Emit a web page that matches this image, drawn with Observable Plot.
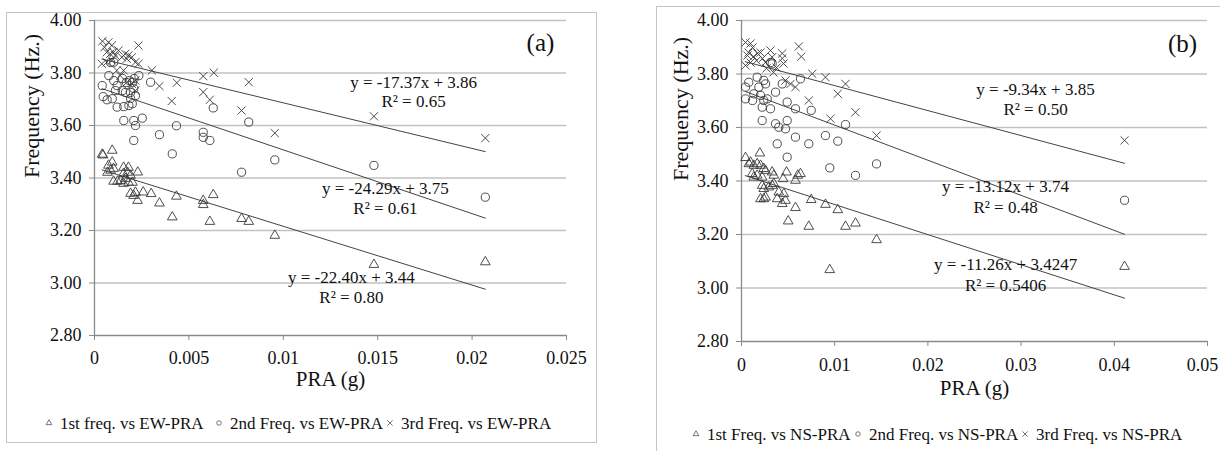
<!DOCTYPE html>
<html><head><meta charset="utf-8">
<script src="https://cdn.jsdelivr.net/npm/d3@7"></script>
<script src="https://cdn.jsdelivr.net/npm/@observablehq/plot@0.6"></script>
<style>
body{margin:0;background:#fff;width:1220px;height:451px;overflow:hidden;position:relative;font-family:"Liberation Serif","Times New Roman",serif;}
.frame{position:absolute;border:1.5px solid #c4c4c4;box-sizing:border-box;}
.leg{position:absolute;font-size:17px;color:#111;white-space:nowrap;line-height:1;}
.leg svg{position:absolute;left:-9px;top:5px;overflow:visible}
svg{overflow:visible}
#a svg text, #b svg text{font-family:"Liberation Serif","Times New Roman",serif !important;}
</style></head><body>
<div class="frame" style="left:6px;top:12px;width:591px;height:431px"></div>
<div class="frame" style="left:656px;top:6px;width:620px;height:470px"></div>
<div id="a" style="position:absolute;left:0;top:0"></div>
<div id="b" style="position:absolute;left:650px;top:0"></div>
<div id="legends"></div>
<script>
// ---------- DATA ----------
const yTicks = [2.8, 3.0, 3.2, 3.4, 3.6, 3.8, 4.0];
const xTicksA = [0, 0.005, 0.01, 0.015, 0.02, 0.025];
const xTickLabelsA = ["0", "0.005", "0.01", "0.015", "0.02", "0.025"];
const xTicksB = [0, 0.01, 0.02, 0.03, 0.04, 0.05];
const xTickLabelsB = ["0", "0.01", "0.02", "0.03", "0.04", "0.05"];

// Panel (a): frequency vs EW-PRA  [PRA (g), frequency (Hz)]
const ewFreq1 = [
  [0.00041,3.490],[0.00045,3.487],[0.00094,3.505],[0.00094,3.460],[0.00074,3.448],[0.00085,3.429],
  [0.00101,3.436],[0.00069,3.421],[0.00101,3.387],[0.00122,3.387],[0.00138,3.390],[0.00154,3.440],
  [0.00180,3.440],[0.00175,3.421],[0.00154,3.417],[0.00191,3.410],[0.00164,3.398],[0.00154,3.379],
  [0.00180,3.383],[0.00201,3.383],[0.00229,3.422],[0.00191,3.341],[0.00207,3.333],[0.00217,3.345],
  [0.00228,3.314],[0.00258,3.346],[0.00300,3.340],[0.00344,3.304],[0.00412,3.251],[0.00434,3.330],
  [0.00576,3.314],[0.00576,3.298],[0.00629,3.336],[0.00611,3.234],[0.00779,3.245],[0.00817,3.234],
  [0.00955,3.181],[0.0148,3.070],[0.0207,3.080]
];
const ewFreq2 = [
  [0.00041,3.752],[0.00046,3.710],[0.00067,3.698],[0.00076,3.790],[0.00094,3.702],[0.00102,3.771],
  [0.00120,3.752],[0.00111,3.733],[0.00102,3.841],[0.00085,3.840],[0.00148,3.779],[0.00169,3.764],
  [0.00185,3.771],[0.00201,3.764],[0.00210,3.779],[0.00147,3.733],[0.00164,3.726],[0.00191,3.726],
  [0.00208,3.741],[0.00120,3.670],[0.00155,3.672],[0.00182,3.676],[0.00200,3.683],[0.00191,3.703],
  [0.00155,3.619],[0.00208,3.619],[0.00217,3.600],[0.00253,3.628],[0.00208,3.543],[0.00235,3.790],
  [0.00217,3.714],[0.00297,3.765],[0.00344,3.565],[0.00412,3.492],[0.00434,3.599],[0.00576,3.574],
  [0.00576,3.555],[0.00611,3.543],[0.00629,3.667],[0.00779,3.422],[0.00817,3.613],[0.00955,3.469],
  [0.0148,3.448],[0.0207,3.327]
];
const ewFreq3 = [
  [0.00042,3.921],[0.00074,3.917],[0.00092,3.905],[0.00053,3.898],[0.00065,3.879],[0.00083,3.873],
  [0.00101,3.879],[0.00110,3.867],[0.00039,3.835],[0.00065,3.841],[0.00092,3.848],[0.00127,3.886],
  [0.00145,3.860],[0.00163,3.873],[0.00171,3.854],[0.00180,3.867],[0.00198,3.860],[0.00216,3.841],
  [0.00233,3.835],[0.00233,3.905],[0.00118,3.810],[0.00136,3.790],[0.00154,3.810],[0.00171,3.765],
  [0.00198,3.759],[0.00216,3.771],[0.00216,3.733],[0.00304,3.810],[0.00344,3.750],[0.00436,3.763],
  [0.00409,3.693],[0.00576,3.788],[0.00632,3.801],[0.00576,3.727],[0.00611,3.698],[0.00779,3.657],
  [0.00817,3.765],[0.00955,3.571],[0.0148,3.635],[0.0207,3.552]
];

// Panel (b): frequency vs NS-PRA
const nsFreq1 = [
  [0.00043,3.487],[0.00197,3.504],[0.00079,3.464],[0.00097,3.470],[0.00132,3.458],[0.00168,3.464],
  [0.00204,3.458],[0.00239,3.446],[0.00258,3.439],[0.00329,3.433],[0.00347,3.421],[0.00115,3.427],
  [0.00132,3.414],[0.00168,3.421],[0.00222,3.414],[0.00222,3.383],[0.00239,3.371],[0.00293,3.377],
  [0.00329,3.383],[0.00347,3.390],[0.00204,3.333],[0.00239,3.333],[0.00258,3.339],[0.00383,3.333],
  [0.00437,3.315],[0.00472,3.327],[0.00454,3.352],[0.00400,3.358],[0.00483,3.433],[0.00447,3.408],
  [0.00579,3.402],[0.00604,3.421],[0.00633,3.427],[0.00579,3.300],[0.00501,3.250],[0.00748,3.330],
  [0.00901,3.312],[0.00722,3.230],[0.01033,3.292],[0.01116,3.230],[0.01223,3.242],[0.01449,3.180],
  [0.00947,3.068],[0.0411,3.080]
];
const nsFreq2 = [
  [0.00043,3.751],[0.00043,3.707],[0.00078,3.769],[0.00118,3.701],[0.00132,3.726],[0.00168,3.788],
  [0.00186,3.751],[0.00204,3.720],[0.00222,3.676],[0.00239,3.701],[0.00222,3.626],[0.00239,3.776],
  [0.00258,3.763],[0.00276,3.707],[0.00311,3.670],[0.00329,3.838],[0.00311,3.843],[0.00365,3.732],
  [0.00365,3.614],[0.00400,3.601],[0.00490,3.626],[0.00472,3.595],[0.00383,3.539],[0.00437,3.763],
  [0.00490,3.695],[0.00579,3.670],[0.00579,3.564],[0.00633,3.782],[0.00722,3.539],[0.00748,3.664],
  [0.00901,3.570],[0.00947,3.449],[0.01033,3.549],[0.01116,3.611],[0.01223,3.421],[0.01449,3.464],
  [0.00490,3.489],[0.0411,3.328]
];
const nsFreq3 = [
  [0.00043,3.918],[0.00097,3.914],[0.00118,3.899],[0.00075,3.880],[0.00064,3.869],[0.00129,3.865],
  [0.00172,3.877],[0.00204,3.880],[0.00043,3.832],[0.00097,3.843],[0.00161,3.850],[0.00225,3.858],
  [0.00258,3.843],[0.00311,3.888],[0.00329,3.863],[0.00437,3.877],[0.00437,3.858],[0.00451,3.839],
  [0.00268,3.821],[0.00343,3.806],[0.00376,3.824],[0.00472,3.776],[0.00526,3.763],[0.00579,3.751],
  [0.00615,3.903],[0.00641,3.865],[0.00722,3.701],[0.00759,3.801],[0.00901,3.788],[0.00955,3.633],
  [0.01033,3.726],[0.01116,3.763],[0.01223,3.657],[0.01449,3.570],[0.0411,3.552]
];

// Trend lines (from the printed equations) and their x-extent
const trendSlopesA = [-22.40, -24.29, -17.37];
const trendInterceptsA = [3.44, 3.75, 3.86];
const trendRangeA = [0.0004, 0.0207];
const trendSlopesB = [-11.26, -13.12, -9.34];
const trendInterceptsB = [3.4247, 3.74, 3.85];
const trendRangeB = [0.0004, 0.0411];

const eqTextA = ["y = -22.40x + 3.44", "y = -24.29x + 3.75", "y = -17.37x + 3.86"];
const r2TextA = ["R² = 0.80", "R² = 0.61", "R² = 0.65"];
const eqTextB = ["y = -11.26x + 3.4247", "y = -13.12x + 3.74", "y = -9.34x + 3.85"];
const r2TextB = ["R² = 0.5406", "R² = 0.48", "R² = 0.50"];
const legendA = ["1st freq. vs EW-PRA", "2nd Freq. vs EW-PRA", "3rd Freq. vs EW-PRA"];
const legendB = ["1st Freq. vs NS-PRA", "2nd Freq. vs NS-PRA", "3rd Freq. vs NS-PRA"];

// ---------- LAYOUT ----------
const FF = "'Liberation Serif','Times New Roman',serif";
const eqPosA = [[0.01361, 3.021, 2.945], [0.01541, 3.360, 3.284], [0.0169, 3.764, 3.691]];
const eqPosB = [[0.02833, 3.088, 3.009], [0.02833, 3.379, 3.301], [0.03155, 3.742, 3.667]];
const symbols = ["triangle", "circle", "times"];
const symR = [3.6, 4.1, 3.8];
const ink = "#3a3a3a";

function panel(cfg) {
  const series = cfg.series.map(s => s.map(([x, y]) => ({x, y})));
  const trends = cfg.slopes.map((m, i) => cfg.range.map(x => ({x, y: m * x + cfg.intercepts[i], i})));
  const eq = cfg.eqPos.map((p, i) => ({x: p[0], y: p[1], t: cfg.eq[i]}));
  const r2 = cfg.eqPos.map((p, i) => ({x: p[0], y: p[2], t: cfg.r2[i]}));
  const fmt = new Map(cfg.xTicks.map((t, i) => [t, cfg.xLabels[i]]));
  const n = cfg.xTicks.length;
  const mainTicks = cfg.lastDx ? cfg.xTicks.slice(0, n - 1) : cfg.xTicks;
  const axisOpts = {tickFormat: d => fmt.get(d), tickSize: 5, tickPadding: cfg.xpad, label: null, stroke: "#8a8a8a", fontFamily: FF, fontSize: 18, fill: "#111"};
  const lastTick = cfg.lastDx ? [
    Plot.axisX([cfg.xTicks[n - 1]], {...axisOpts, tickFormat: () => ""}),
    Plot.axisX([cfg.xTicks[n - 1]], {...axisOpts, tickSize: 0, tickPadding: cfg.xpad + 5, dx: cfg.lastDx})
  ] : [];
  return Plot.plot({
    width: cfg.width, height: 451,
    marginLeft: cfg.ml, marginRight: cfg.mr, marginTop: 20, marginBottom: 451 - cfg.bottom,
    x: {domain: [cfg.xTicks[0], cfg.xTicks[n - 1]]},
    y: {domain: [2.8, 4.0]},
    style: {fontFamily: FF, fontSize: "18px", color: "#111", background: "transparent", overflow: "visible"},
    marks: [
      Plot.ruleY(yTicks.slice(1), {stroke: "#c2c2c2", strokeWidth: 1.3}),
      Plot.ruleX([0], {stroke: "#8a8a8a", strokeWidth: 1.3}),
      Plot.ruleY([2.8], {stroke: "#8a8a8a", strokeWidth: 1.3}),
      Plot.axisY(yTicks, {tickFormat: d => d.toFixed(2), tickSize: 5, tickPadding: 8, label: null, stroke: "#8a8a8a", fontFamily: FF, fontSize: 18, fill: "#111"}),
      Plot.axisX(mainTicks, axisOpts),
      ...lastTick,
      ...trends.map(t => Plot.line(t, {x: "x", y: "y", stroke: "#444", strokeWidth: 1})),
      ...series.map((s, i) => Plot.dot(s, {x: "x", y: "y", symbol: symbols[i], r: symR[i], stroke: ink, strokeWidth: 0.9, fill: "none"})),
      Plot.text(eq, {x: "x", y: "y", text: "t", fontSize: 17, fontFamily: FF, fill: "#111"}),
      Plot.text(r2, {x: "x", y: "y", text: "t", fontSize: 17, fontFamily: FF, fill: "#111"}),
      Plot.text([cfg.tag], {x: cfg.tagPos[0], y: cfg.tagPos[1], text: d => d, fontSize: 25, fontFamily: FF, fill: "#111"}),
      Plot.text(["Frequency (Hz.)"], {frameAnchor: "left", dx: cfg.ylabDx, rotate: -90, fontSize: 22, fontFamily: FF, fill: "#111"}),
      Plot.text(["PRA (g)"], {frameAnchor: "bottom", dy: cfg.xlabDy, fontSize: 21, fontFamily: FF, fill: "#111"})
    ]
  });
}

document.getElementById("a").append(panel({
  width: 600, ml: 94, mr: 34, bottom: 335, xpad: 11,
  series: [ewFreq1, ewFreq2, ewFreq3], xTicks: xTicksA, xLabels: xTickLabelsA,
  slopes: trendSlopesA, intercepts: trendInterceptsA, range: trendRangeA,
  eqPos: eqPosA, eq: eqTextA, r2: r2TextA,
  tag: "(a)", tagPos: [0.02362, 3.916], ylabDx: -63, xlabDy: 50
}));
document.getElementById("b").append(panel({
  width: 570, ml: 91, mr: 13, bottom: 341, xpad: 12, lastDx: -5,
  series: [nsFreq1, nsFreq2, nsFreq3], xTicks: xTicksB, xLabels: xTickLabelsB,
  slopes: trendSlopesB, intercepts: trendInterceptsB, range: trendRangeB,
  eqPos: eqPosB, eq: eqTextB, r2: r2TextB,
  tag: "(b)", tagPos: [0.04732, 3.914], ylabDx: -61, xlabDy: 53
}));

// legends
function legend(texts, xs, y) {
  const box = document.getElementById("legends");
  texts.forEach((t, i) => {
    const d = document.createElement("div");
    d.className = "leg";
    d.style.left = xs[i] + "px";
    d.style.top = (y - 9) + "px";
    d.textContent = t;
    const s = d3.create("svg").attr("width", 1).attr("height", 1);
    const sym = [d3.symbolTriangle, d3.symbolCircle, d3.symbolTimes][i];
    s.append("path").attr("d", d3.symbol(sym, [14, 16, 20][i])()).attr("transform", "translate(-2,3)")
      .attr("fill", "none").attr("stroke", "#555").attr("stroke-width", 0.8);
    d.prepend(s.node());
    box.append(d);
  });
}
legend(legendA, [60, 230, 401], 424);
legend(legendB, [707, 869, 1036], 435);
</script>
</body></html>
